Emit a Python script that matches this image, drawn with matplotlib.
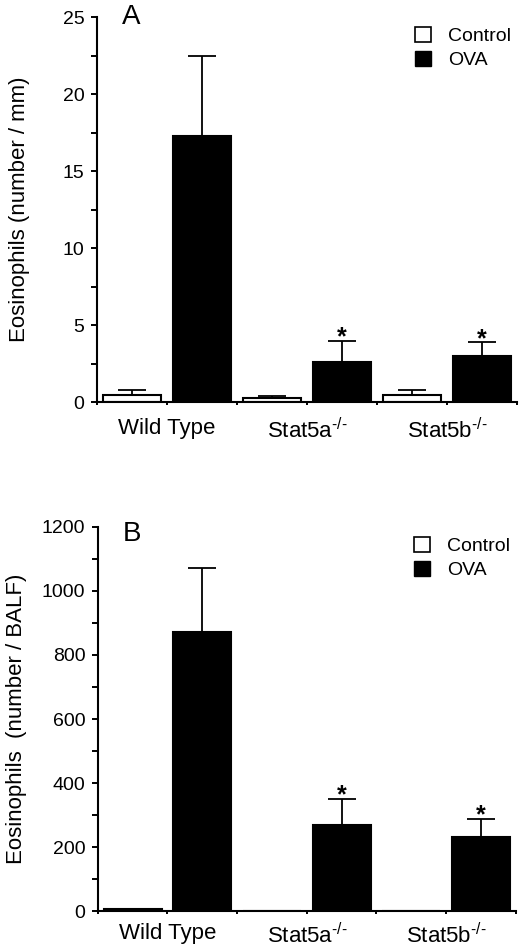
import numpy as np
import matplotlib
matplotlib.use("Agg")
import matplotlib.pyplot as plt
from matplotlib.patches import Patch

plt.rcParams["font.family"] = ["Liberation Sans", "DejaVu Sans"]
plt.rcParams["mathtext.fontset"] = "custom"
plt.rcParams["mathtext.rm"] = "Liberation Sans"
plt.rcParams["mathtext.it"] = "Liberation Sans"

groups = ["Wild Type", r"Stat5a$^{\text{-/-}}$", r"Stat5b$^{\text{-/-}}$"]

# panel A: tissue eosinophils (number / mm)
a_control = [0.45, 0.24, 0.45]
a_control_err = [0.3, 0.17, 0.33]
a_ova = [17.3, 2.6, 2.97]
a_ova_err = [5.15, 1.35, 0.9]
a_star = [False, True, True]

# panel B: BALF eosinophils (number / BALF)
b_control = [5, 0, 0]
b_control_err = [0, 0, 0]
b_ova = [871, 270, 232]
b_ova_err = [202, 81, 57]
b_star = [False, True, True]

fig = plt.figure(figsize=(5.2, 9.5), dpi=100)
axA = fig.add_axes([0.1865, 0.5768, 0.8075, 0.4052])
axB = fig.add_axes([0.188, 0.041, 0.804, 0.4043])


def panel(ax, ctrl, ctrl_err, ova, ova_err, stars, ymax, major, minor,
          ylabel, ylab_x, letter, letter_y, xpad):
    x = np.arange(len(groups)) * 2
    w = 0.83
    ax.bar(x + 0.5, ctrl, w, color="white", edgecolor="black", linewidth=1.5, zorder=2)
    ax.bar(x + 1.5, ova, w, color="black", edgecolor="black", linewidth=1.5, zorder=2)
    for xs, v, e in zip(x + 0.5, ctrl, ctrl_err):
        if e > 0:
            ax.errorbar(xs, v, yerr=[[0], [e]], color="black", lw=1.3,
                        capsize=10, capthick=1.3, zorder=1)
    for xs, v, e, s in zip(x + 1.5, ova, ova_err, stars):
        ax.errorbar(xs, v, yerr=[[0], [e]], color="black", lw=1.3,
                    capsize=10, capthick=1.3, zorder=1)
        if s:
            ax.annotate("*", (xs, v + e), xytext=(0, -2.5), textcoords="offset points",
                        ha="center", va="baseline", fontsize=18, fontweight="bold")
    ax.set_xlim(0, 6)
    ax.set_ylim(0, ymax)
    ax.set_xticks(range(7))
    ax.set_xticklabels(["", groups[0], "", groups[1], "", groups[2], ""], fontsize=16)
    ax.set_yticks(np.arange(0, ymax + 1, major))
    ax.set_yticks(np.arange(0, ymax + 1, minor), minor=True)
    ax.tick_params(axis="y", labelsize=14, length=4, width=1.4, pad=5)
    ax.tick_params(axis="y", which="minor", length=4, width=1.4)
    ax.tick_params(axis="x", length=2.5, width=1.4, pad=xpad)
    for sp in ["top", "right"]:
        ax.spines[sp].set_visible(False)
    for sp in ["left", "bottom"]:
        ax.spines[sp].set_linewidth(1.5)
    ax.set_ylabel(ylabel, fontsize=16)
    ax.yaxis.set_label_coords(ylab_x, 0.5)
    ax.text(0.06, letter_y, letter, transform=ax.transAxes, fontsize=20,
            ha="left", va="center")
    handles = [Patch(facecolor="white", edgecolor="black", linewidth=1.2, label="Control"),
               Patch(facecolor="black", edgecolor="black", label="OVA")]
    ax.legend(handles=handles, loc="upper right", frameon=False, fontsize=14,
              handlelength=0.8, handleheight=0.8, handletextpad=0.9, labelspacing=0.3,
              bbox_to_anchor=(1.0, 0.99), borderaxespad=0, borderpad=0.3)


panel(axA, a_control, a_control_err, a_ova, a_ova_err, a_star, 25, 5, 2.5,
      "Eosinophils (number / mm)", -0.16, "A", 1.0, 9)
panel(axB, b_control, b_control_err, b_ova, b_ova_err, b_star, 1200, 200, 100,
      "Eosinophils  (number / BALF)", -0.17, "B", 0.982, 6)

fig.savefig("out.png", dpi=100)
